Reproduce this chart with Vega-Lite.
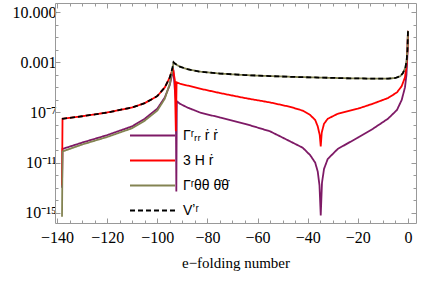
{
  "$schema": "https://vega.github.io/schema/vega-lite/v6.json",
  "width": 361,
  "height": 220,
  "autosize": {"type": "none"},
  "padding": {"left": 55, "top": 3, "right": 5, "bottom": 59},
  "background": "white",
  "config": {"view": {"stroke": null}, "font": "Liberation Serif"},
  "datasets": {
    "d": [
      {"s": "P", "x": -138, "y": 1e-13},
      {"s": "P", "x": -137.8, "y": 1.26e-10},
      {"s": "P", "x": -130, "y": 3.98e-10},
      {"s": "P", "x": -120, "y": 1.58e-9},
      {"s": "P", "x": -110, "y": 7.94e-9},
      {"s": "P", "x": -105, "y": 3.16e-8},
      {"s": "P", "x": -100, "y": 2.0e-7},
      {"s": "P", "x": -97, "y": 1.58e-6},
      {"s": "P", "x": -95, "y": 1.58e-5},
      {"s": "P", "x": -94, "y": 1.26e-4},
      {"s": "P", "x": -93.6, "y": 2.51e-4},
      {"s": "P", "x": -93, "y": 6.31e-6},
      {"s": "P", "x": -92.6, "y": 1.0e-6},
      {"s": "P", "x": -92.4, "y": 5.01e-14},
      {"s": "P", "x": -92.2, "y": 7.94e-7},
      {"s": "P", "x": -91, "y": 5.01e-7},
      {"s": "P", "x": -88, "y": 2.51e-7},
      {"s": "P", "x": -83, "y": 1.0e-7},
      {"s": "P", "x": -75, "y": 3.98e-8},
      {"s": "P", "x": -65, "y": 1.26e-8},
      {"s": "P", "x": -55, "y": 3.16e-9},
      {"s": "P", "x": -47, "y": 5.01e-10},
      {"s": "P", "x": -42, "y": 1.58e-10},
      {"s": "P", "x": -39, "y": 3.98e-11},
      {"s": "P", "x": -37, "y": 1e-11},
      {"s": "P", "x": -36, "y": 2.0e-12},
      {"s": "P", "x": -35.3, "y": 1.58e-13},
      {"s": "P", "x": -34.8, "y": 6.31e-16},
      {"s": "P", "x": -34.3, "y": 2.51e-13},
      {"s": "P", "x": -33.5, "y": 3.16e-12},
      {"s": "P", "x": -32, "y": 2.0e-11},
      {"s": "P", "x": -28, "y": 1.26e-10},
      {"s": "P", "x": -20, "y": 1e-9},
      {"s": "P", "x": -14, "y": 5.01e-9},
      {"s": "P", "x": -8, "y": 3.16e-8},
      {"s": "P", "x": -4.4, "y": 1.58e-7},
      {"s": "P", "x": -2.5, "y": 1e-6},
      {"s": "P", "x": -1.2, "y": 1e-5},
      {"s": "P", "x": -0.6, "y": 1e-4},
      {"s": "P", "x": -0.2, "y": 5.01e-3},
      {"s": "P", "x": 0, "y": 0.316},

      {"s": "R", "x": -138, "y": 1.58e-13},
      {"s": "R", "x": -137.8, "y": 3.16e-8},
      {"s": "R", "x": -130, "y": 5.01e-8},
      {"s": "R", "x": -120, "y": 1e-7},
      {"s": "R", "x": -110, "y": 2.51e-7},
      {"s": "R", "x": -105, "y": 5.62e-7},
      {"s": "R", "x": -100, "y": 2.0e-6},
      {"s": "R", "x": -97, "y": 1e-5},
      {"s": "R", "x": -95, "y": 6.31e-5},
      {"s": "R", "x": -94, "y": 2.51e-4},
      {"s": "R", "x": -93.7, "y": 2.82e-4},
      {"s": "R", "x": -93, "y": 3.98e-5},
      {"s": "R", "x": -92.6, "y": 3.16e-9},
      {"s": "R", "x": -92.3, "y": 2.51e-5},
      {"s": "R", "x": -91, "y": 2.0e-5},
      {"s": "R", "x": -88, "y": 1.41e-5},
      {"s": "R", "x": -83, "y": 7.94e-6},
      {"s": "R", "x": -75, "y": 3.55e-6},
      {"s": "R", "x": -65, "y": 1.41e-6},
      {"s": "R", "x": -55, "y": 6.31e-7},
      {"s": "R", "x": -47, "y": 2.82e-7},
      {"s": "R", "x": -42, "y": 1.41e-7},
      {"s": "R", "x": -39, "y": 6.31e-8},
      {"s": "R", "x": -37, "y": 2.51e-8},
      {"s": "R", "x": -36, "y": 7.94e-9},
      {"s": "R", "x": -35.2, "y": 1.58e-9},
      {"s": "R", "x": -34.8, "y": 2.0e-10},
      {"s": "R", "x": -34.4, "y": 2.51e-9},
      {"s": "R", "x": -33.5, "y": 1.26e-8},
      {"s": "R", "x": -32, "y": 3.16e-8},
      {"s": "R", "x": -28, "y": 7.94e-8},
      {"s": "R", "x": -20, "y": 2.0e-7},
      {"s": "R", "x": -14, "y": 5.01e-7},
      {"s": "R", "x": -8, "y": 1.41e-6},
      {"s": "R", "x": -4.4, "y": 3.98e-6},
      {"s": "R", "x": -2.5, "y": 1.26e-5},
      {"s": "R", "x": -1.2, "y": 6.31e-5},
      {"s": "R", "x": -0.6, "y": 5.01e-4},
      {"s": "R", "x": -0.2, "y": 1e-2},
      {"s": "R", "x": 0, "y": 0.316},

      {"s": "O", "x": -138, "y": 5.01e-16},
      {"s": "O", "x": -137.8, "y": 7.94e-11},
      {"s": "O", "x": -130, "y": 2.82e-10},
      {"s": "O", "x": -120, "y": 1.12e-9},
      {"s": "O", "x": -110, "y": 5.62e-9},
      {"s": "O", "x": -105, "y": 2.24e-8},
      {"s": "O", "x": -100, "y": 1.41e-7},
      {"s": "O", "x": -97, "y": 1.26e-6},
      {"s": "O", "x": -95, "y": 2.0e-5},
      {"s": "O", "x": -94, "y": 2.51e-4},
      {"s": "O", "x": -93.5, "y": 1e-3},
      {"s": "O", "x": -93, "y": 7.94e-4},
      {"s": "O", "x": -91, "y": 4.47e-4},
      {"s": "O", "x": -88, "y": 2.82e-4},
      {"s": "O", "x": -83, "y": 1.78e-4},
      {"s": "O", "x": -75, "y": 1.26e-4},
      {"s": "O", "x": -65, "y": 9.55e-5},
      {"s": "O", "x": -55, "y": 7.94e-5},
      {"s": "O", "x": -45, "y": 6.76e-5},
      {"s": "O", "x": -35, "y": 6.03e-5},
      {"s": "O", "x": -25, "y": 5.37e-5},
      {"s": "O", "x": -15, "y": 5.01e-5},
      {"s": "O", "x": -8, "y": 5.01e-5},
      {"s": "O", "x": -5, "y": 5.62e-5},
      {"s": "O", "x": -3, "y": 7.94e-5},
      {"s": "O", "x": -2, "y": 1.41e-4},
      {"s": "O", "x": -1, "y": 3.98e-4},
      {"s": "O", "x": -0.5, "y": 1.58e-3},
      {"s": "O", "x": -0.2, "y": 1e-2},
      {"s": "O", "x": 0, "y": 0.316},

      {"s": "V", "x": -138, "y": 3.16e-8},
      {"s": "V", "x": -130, "y": 5.01e-8},
      {"s": "V", "x": -120, "y": 1e-7},
      {"s": "V", "x": -110, "y": 2.51e-7},
      {"s": "V", "x": -105, "y": 5.62e-7},
      {"s": "V", "x": -100, "y": 2.0e-6},
      {"s": "V", "x": -97, "y": 1e-5},
      {"s": "V", "x": -95, "y": 6.31e-5},
      {"s": "V", "x": -94, "y": 3.16e-4},
      {"s": "V", "x": -93.5, "y": 1e-3},
      {"s": "V", "x": -93, "y": 7.94e-4},
      {"s": "V", "x": -91, "y": 4.47e-4},
      {"s": "V", "x": -88, "y": 2.82e-4},
      {"s": "V", "x": -83, "y": 1.78e-4},
      {"s": "V", "x": -75, "y": 1.26e-4},
      {"s": "V", "x": -65, "y": 9.55e-5},
      {"s": "V", "x": -55, "y": 7.94e-5},
      {"s": "V", "x": -45, "y": 6.76e-5},
      {"s": "V", "x": -35, "y": 6.03e-5},
      {"s": "V", "x": -25, "y": 5.37e-5},
      {"s": "V", "x": -15, "y": 5.01e-5},
      {"s": "V", "x": -8, "y": 5.01e-5},
      {"s": "V", "x": -5, "y": 5.62e-5},
      {"s": "V", "x": -3, "y": 7.94e-5},
      {"s": "V", "x": -2, "y": 1.41e-4},
      {"s": "V", "x": -1, "y": 3.98e-4},
      {"s": "V", "x": -0.5, "y": 1.58e-3},
      {"s": "V", "x": -0.2, "y": 1e-2},
      {"s": "V", "x": 0, "y": 0.316}
    ]
  },
  "data": {"name": "d"},
  "resolve": {"axis": {"x": "independent", "y": "independent"}},
  "layer": [
    {
      "encoding": {
        "x": {"field": "x", "type": "quantitative",
          "scale": {"domain": [-140.8, 3.2], "nice": false, "zero": false},
          "axis": {"values": [-140, -120, -100, -80, -60, -40, -20, 0], "orient": "bottom", "grid": false,
            "domainColor": "#999999", "tickColor": "#999999", "tickSize": -5, "labelPadding": 11,
            "labelFont": "Liberation Serif", "labelFontSize": 16, "labelColor": "black",
            "title": "e−folding number", "titleFont": "Liberation Serif", "titleFontSize": 15,
            "titleFontWeight": "normal", "titleColor": "black", "titlePadding": 10}},
        "y": {"field": "y", "type": "quantitative",
          "scale": {"type": "log", "domain": [1.585e-16, 52.5], "nice": false},
          "axis": {"values": [1e-15, 1e-11, 1e-7, 1e-3, 10], "orient": "left", "grid": false,
            "domainColor": "#999999", "tickColor": "#999999", "tickSize": -5, "labelPadding": 4,
            "labelFont": "Liberation Serif", "labelFontSize": 16, "labelColor": "black",
            "labelExpr": "datum.value > 1 ? '10.000' : datum.value > 1e-4 ? '0.001' : datum.value > 1e-8 ? '10⁻⁷' : datum.value > 1e-12 ? '10⁻¹¹' : '10⁻¹⁵'",
            "title": null}},
        "color": {"field": "s", "type": "nominal",
          "scale": {"domain": ["P", "R", "O", "V"], "range": ["#7e1a66", "#ff0000", "#838352", "#000000"]},
          "legend": {"orient": "none", "legendX": 84, "legendY": 119, "title": null,
            "symbolType": "M-1.8,0H1.8", "symbolSize": 625, "symbolStrokeWidth": 2,
            "labelFont": "Liberation Sans", "labelFontSize": 14, "labelColor": "black",
            "labelOffset": 17, "rowPadding": 4,
            "labelExpr": "datum.value == 'P' ? 'Γʳᵣᵣ ṙ ṙ' : datum.value == 'R' ? '3 H ṙ' : datum.value == 'O' ? 'Γʳθθ θ̇θ̇' : 'Vʼʳ'"}},
        "strokeDash": {"field": "s", "type": "nominal",
          "scale": {"domain": ["P", "R", "O", "V"], "range": [[1, 0], [1, 0], [1, 0], [5, 3]]},
          "legend": {"orient": "none", "legendX": 84, "legendY": 119, "title": null,
            "symbolType": "M-1.8,0H1.8", "symbolSize": 625, "symbolStrokeWidth": 2,
            "labelFont": "Liberation Sans", "labelFontSize": 14, "labelColor": "black",
            "labelOffset": 17, "rowPadding": 4,
            "labelExpr": "datum.value == 'P' ? 'Γʳᵣᵣ ṙ ṙ' : datum.value == 'R' ? '3 H ṙ' : datum.value == 'O' ? 'Γʳθθ θ̇θ̇' : 'Vʼʳ'"}}
      },
      "layer": [
        {"transform": [{"filter": {"field": "s", "equal": "P"}}], "mark": {"type": "line", "strokeWidth": 1.8, "clip": true}},
        {"transform": [{"filter": {"field": "s", "equal": "R"}}], "mark": {"type": "line", "strokeWidth": 1.8, "clip": true}},
        {"transform": [{"filter": {"field": "s", "equal": "O"}}], "mark": {"type": "line", "strokeWidth": 1.8, "clip": true}},
        {"transform": [{"filter": {"field": "s", "equal": "V"}}], "mark": {"type": "line", "strokeWidth": 1.8, "clip": true}}
      ]
    },
    {
      "mark": {"type": "point", "opacity": 0},
      "encoding": {
        "x": {"field": "x", "type": "quantitative",
          "axis": {"values": [-140, -120, -100, -80, -60, -40, -20, 0], "orient": "top", "grid": false, "labels": false, "title": null,
            "domainColor": "#999999", "tickColor": "#999999", "tickSize": -5}},
        "y": {"field": "y", "type": "quantitative",
          "axis": {"values": [1e-15, 1e-11, 1e-7, 1e-3, 10], "orient": "right", "grid": false, "labels": false, "title": null,
            "domainColor": "#999999", "tickColor": "#999999", "tickSize": -5}}
      }
    },
    {
      "mark": {"type": "point", "opacity": 0},
      "encoding": {
        "x": {"field": "x", "type": "quantitative",
          "axis": {"values": [-135, -130, -125, -115, -110, -105, -95, -90, -85, -75, -70, -65, -55, -50, -45, -35, -30, -25, -15, -10, -5], "orient": "bottom", "grid": false, "labels": false, "title": null, "domain": false,
            "tickColor": "#999999", "tickSize": -3}},
        "y": {"field": "y", "type": "quantitative",
          "axis": {"values": [1e-14, 1e-13, 1e-12, 1e-10, 1e-9, 1e-8, 1e-6, 1e-5, 1e-4, 1e-2, 1e-1, 1], "orient": "left", "grid": false, "labels": false, "title": null, "domain": false,
            "tickColor": "#999999", "tickSize": -3}}
      }
    },
    {
      "mark": {"type": "point", "opacity": 0},
      "encoding": {
        "x": {"field": "x", "type": "quantitative",
          "axis": {"values": [-135, -130, -125, -115, -110, -105, -95, -90, -85, -75, -70, -65, -55, -50, -45, -35, -30, -25, -15, -10, -5], "orient": "top", "grid": false, "labels": false, "title": null, "domain": false,
            "tickColor": "#999999", "tickSize": -3}},
        "y": {"field": "y", "type": "quantitative",
          "axis": {"values": [1e-14, 1e-13, 1e-12, 1e-10, 1e-9, 1e-8, 1e-6, 1e-5, 1e-4, 1e-2, 1e-1, 1], "orient": "right", "grid": false, "labels": false, "title": null, "domain": false,
            "tickColor": "#999999", "tickSize": -3}}
      }
    }
  ]
}
